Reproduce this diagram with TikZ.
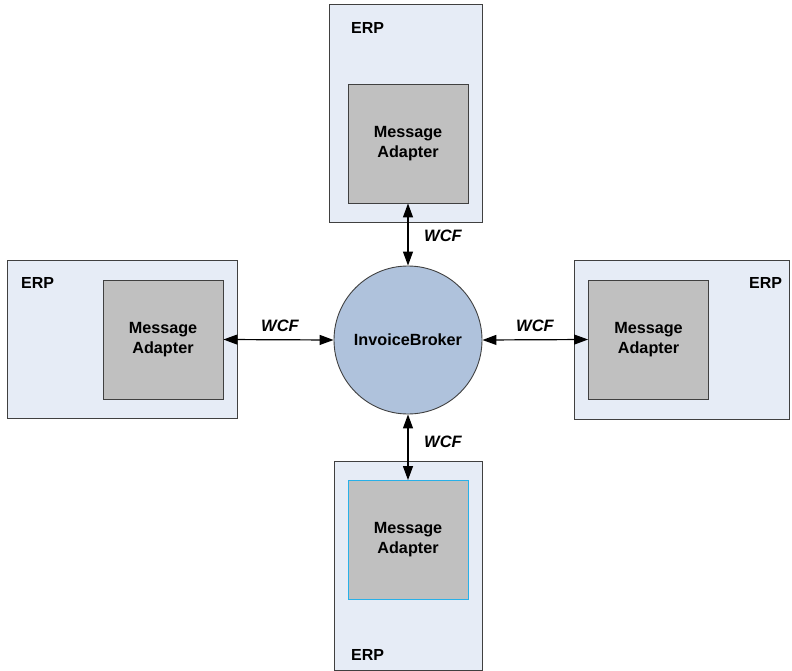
\documentclass[tikz,border=0pt]{standalone}
\usepackage{fontspec}
\setmainfont{Liberation Sans}
\usetikzlibrary{arrows.meta}
\definecolor{erpfill}{RGB}{230,236,246}
\definecolor{adapterfill}{RGB}{192,192,192}
\definecolor{brokerfill}{RGB}{175,194,220}
\definecolor{edgegray}{RGB}{64,64,64}
\definecolor{cyanedge}{RGB}{40,176,232}
\tikzset{
  erpbox/.style={draw=edgegray, fill=erpfill, line width=0.9pt},
  adapter/.style={draw=edgegray, fill=adapterfill, line width=0.9pt,
    minimum width=120pt, minimum height=119pt, inner sep=0pt, align=center,
    font=\fontsize{16.2}{20}\selectfont\bfseries},
  broker/.style={circle, draw=edgegray, fill=brokerfill, line width=0.9pt,
    minimum size=148pt, inner sep=0pt, font=\fontsize{16.2}{19}\selectfont\bfseries},
  erplabel/.style={inner sep=0pt, font=\fontsize{16}{19}\selectfont\bfseries},
  wcf/.style={inner sep=0pt, font=\fontsize{16.5}{19}\selectfont\bfseries\itshape},
  link/.style={black, line width=1.2pt, {Triangle[length=14pt,width=10pt]}-{Triangle[length=14pt,width=10pt]}}
}
\begin{document}
\begin{tikzpicture}[x=1pt,y=-1pt]
\useasboundingbox (0,0) rectangle (792,671);

% ERP containers
\draw[erpbox] (329.5,4.5) rectangle (482,222.5);
\draw[erpbox] (7,260) rectangle (237,418);
\draw[erpbox] (574,260) rectangle (789,419);
\draw[erpbox] (334,461) rectangle (482,670);

% ERP labels
\node[erplabel, anchor=west] (erpT) at (351,28) {ERP};
\node[erplabel, anchor=west] (erpL) at (21,283) {ERP};
\node[erplabel, anchor=west] (erpR) at (749,283) {ERP};
\node[erplabel, anchor=west] (erpB) at (351,655) {ERP};

% message adapters
\node[adapter] (maT) at (408,143.5) {Message\\Adapter};
\node[adapter] (maL) at (163,339.5) {Message\\Adapter};
\node[adapter] (maR) at (648.5,339.5) {Message\\Adapter};
\node[adapter, draw=cyanedge] (maB) at (408,540) {Message\\Adapter};

% central broker
\node[broker] (broker) at (408,340) {InvoiceBroker};

% WCF links
\draw[link] (maT.south) -- (broker.north);
\draw[link] (maL.east) -- (broker.west);
\draw[link] (broker.east) -- (maR.west);
\draw[link] (broker.south) -- (maB.north);

\node[wcf] (wT) at (443,236) {WCF};
\node[wcf] (wL) at (280,326) {WCF};
\node[wcf] (wR) at (535,326) {WCF};
\node[wcf] (wB) at (443,442) {WCF};
\end{tikzpicture}
\end{document}
